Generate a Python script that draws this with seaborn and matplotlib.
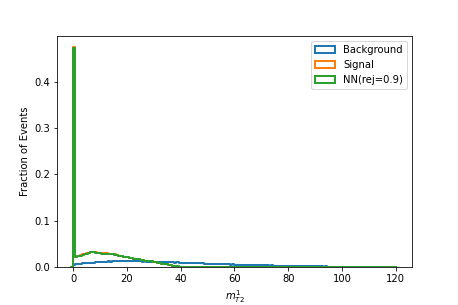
import numpy as np
import pandas as pd
import matplotlib
matplotlib.use("Agg")
import matplotlib.pyplot as plt
from matplotlib.patches import Patch
import seaborn as sns

# ---- data (fraction of events per bin, 150 bins of width 0.8 from 0 to 120) ----
bin_lo, bin_hi, n_bins = 0.0, 120.0, 150
labels = ["Background", "Signal", "NN(rej=0.9)"]
colors = ["#1f77b4", "#ff7f0e", "#2ca02c"]
xlabel = r"$m_{T2}^{1}$"
ylabel = "Fraction of Events"

background = [
    0.004, 0.006, 0.007, 0.007, 0.008, 0.008, 0.008, 0.009, 0.009, 0.009,
    0.010, 0.010, 0.010, 0.011, 0.011, 0.011, 0.012, 0.011, 0.012, 0.012,
    0.012, 0.012, 0.013, 0.012, 0.012, 0.012, 0.013, 0.012, 0.012, 0.012,
    0.012, 0.012, 0.011, 0.012, 0.011, 0.011, 0.011, 0.011, 0.011, 0.010,
    0.011, 0.010, 0.010, 0.010, 0.010, 0.010, 0.010, 0.009, 0.010, 0.009,
    0.009, 0.009, 0.009, 0.009, 0.008, 0.009, 0.008, 0.008, 0.008, 0.008,
    0.008, 0.007, 0.007, 0.007, 0.007, 0.007, 0.007, 0.006, 0.006, 0.006,
    0.006, 0.006, 0.006, 0.005, 0.006, 0.005, 0.005, 0.005, 0.005, 0.005,
    0.005, 0.004, 0.005, 0.004, 0.004, 0.004, 0.004, 0.004, 0.004, 0.004,
    0.004, 0.003, 0.004, 0.003, 0.003, 0.003, 0.003, 0.003, 0.003, 0.003,
    0.003, 0.003, 0.002, 0.003, 0.002, 0.002, 0.002, 0.002, 0.002, 0.002,
    0.002, 0.002, 0.002, 0.002, 0.002, 0.002, 0.001, 0.002, 0.001, 0.001,
    0.001, 0.001, 0.001, 0.001, 0.001, 0.001, 0.001, 0.001, 0.001, 0.001,
    0.001, 0.001, 0.001, 0.001, 0.0005, 0.001, 0.0005, 0.0005, 0.0005, 0.0005,
    0.0005, 0.0005, 0.0005, 0.0005, 0.0003, 0.0005, 0.0003, 0.0003, 0.0003, 0.0003,
]

signal = [
    0.475, 0.022, 0.024, 0.025, 0.027, 0.028, 0.030, 0.031, 0.033, 0.033,
    0.032, 0.031, 0.031, 0.030, 0.030, 0.030, 0.029, 0.029, 0.028, 0.027,
    0.026, 0.024, 0.023, 0.022, 0.022, 0.021, 0.020, 0.019, 0.018, 0.018,
    0.017, 0.016, 0.015, 0.014, 0.013, 0.012, 0.012, 0.011, 0.010, 0.009,
    0.008, 0.007, 0.007, 0.006, 0.005, 0.004, 0.003, 0.002, 0.002, 0.001,
    0.0005, 0.0003, 0.0002, 0.0001, 0.0001, 0.0, 0.0, 0.0, 0.0, 0.0,
    0.0, 0.0, 0.0, 0.0, 0.0, 0.0, 0.0, 0.0, 0.0, 0.0,
    0.0, 0.0, 0.0, 0.0, 0.0, 0.0, 0.0, 0.0, 0.0, 0.0,
    0.0, 0.0, 0.0, 0.0, 0.0, 0.0, 0.0, 0.0, 0.0, 0.0,
    0.0, 0.0, 0.0, 0.0, 0.0, 0.0, 0.0, 0.0, 0.0, 0.0,
    0.0, 0.0, 0.0, 0.0, 0.0, 0.0, 0.0, 0.0, 0.0, 0.0,
    0.0, 0.0, 0.0, 0.0, 0.0, 0.0, 0.0, 0.0, 0.0, 0.0,
    0.0, 0.0, 0.0, 0.0, 0.0, 0.0, 0.0, 0.0, 0.0, 0.0,
    0.0, 0.0, 0.0, 0.0, 0.0, 0.0, 0.0, 0.0, 0.0, 0.0,
    0.0, 0.0, 0.0, 0.0, 0.0, 0.0, 0.0, 0.0, 0.0, 0.0,
]

nn = [
    0.4735, 0.021, 0.023, 0.024, 0.026, 0.027, 0.029, 0.030, 0.032, 0.032,
    0.031, 0.030, 0.030, 0.029, 0.029, 0.029, 0.028, 0.028, 0.027, 0.026,
    0.026, 0.024, 0.023, 0.022, 0.022, 0.021, 0.020, 0.019, 0.018, 0.018,
    0.017, 0.016, 0.015, 0.014, 0.013, 0.012, 0.012, 0.011, 0.010, 0.009,
    0.008, 0.007, 0.007, 0.006, 0.005, 0.004, 0.003, 0.002, 0.002, 0.001,
    0.0005, 0.0003, 0.0002, 0.0001, 0.0001, 0.0, 0.0, 0.0, 0.0, 0.0,
    0.0, 0.0, 0.0, 0.0, 0.0, 0.0, 0.0, 0.0, 0.0, 0.0,
    0.0, 0.0, 0.0, 0.0, 0.0, 0.0, 0.0, 0.0, 0.0, 0.0,
    0.0, 0.0, 0.0, 0.0, 0.0, 0.0, 0.0, 0.0, 0.0, 0.0,
    0.0, 0.0, 0.0, 0.0, 0.0, 0.0, 0.0, 0.0, 0.0, 0.0,
    0.0, 0.0, 0.0, 0.0, 0.0, 0.0, 0.0, 0.0, 0.0, 0.0,
    0.0, 0.0, 0.0, 0.0, 0.0, 0.0, 0.0, 0.0, 0.0, 0.0,
    0.0, 0.0, 0.0, 0.0, 0.0, 0.0, 0.0, 0.0, 0.0, 0.0,
    0.0, 0.0, 0.0, 0.0, 0.0, 0.0, 0.0, 0.0, 0.0, 0.0,
    0.0, 0.0, 0.0, 0.0, 0.0, 0.0, 0.0, 0.0, 0.0, 0.0,
]

# ---- plot ----
edges = np.linspace(bin_lo, bin_hi, n_bins + 1)
width = edges[1] - edges[0]
# a leading empty bin so the step outline rises from the baseline at x=0
edges_ext = np.concatenate([[bin_lo - width], edges])
centers = 0.5 * (edges_ext[:-1] + edges_ext[1:])
bin_list = [float(e) for e in edges_ext]

fig = plt.figure(figsize=(458 / 72, 305 / 72), dpi=72)
ax = fig.add_axes([0.1245, 0.1246, 0.775, 0.7574])

for vals, col in zip([background, signal, nn], colors):
    w = np.concatenate([[0.0], np.asarray(vals, dtype=float)])
    df = pd.DataFrame({"x": centers, "w": w})
    sns.histplot(data=df, x="x", weights="w", bins=bin_list, element="step",
                 fill=False, color=col, linewidth=2, ax=ax)

span = bin_hi - bin_lo
ax.set_xlim(bin_lo - 0.05 * span, bin_hi + 0.05 * span)
ymax = max(max(background), max(signal), max(nn))
ax.set_ylim(0, ymax * 1.05)
ax.set_yticks([0.0, 0.1, 0.2, 0.3, 0.4])
ax.set_xticks([0, 20, 40, 60, 80, 100, 120])
ax.set_xlabel(xlabel)
ax.set_ylabel(ylabel)

handles = [Patch(facecolor="none", edgecolor=c, linewidth=2) for c in colors]
ax.legend(handles, labels, loc="upper right")

fig.savefig("out.png", dpi=72)
